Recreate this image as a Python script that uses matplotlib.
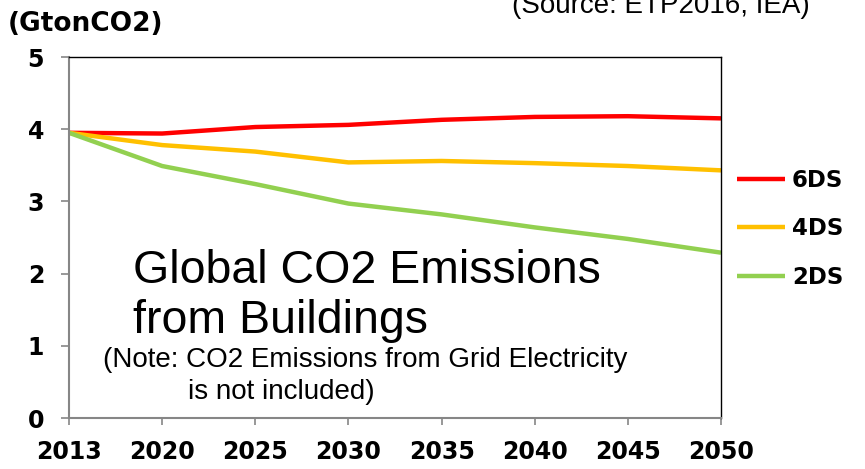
import matplotlib.pyplot as plt

# Data (GtonCO2)
years = ['2013', '2020', '2025', '2030', '2035', '2040', '2045', '2050']
ds6 = [3.95, 3.94, 4.03, 4.06, 4.13, 4.17, 4.18, 4.15]
ds4 = [3.95, 3.78, 3.69, 3.54, 3.56, 3.53, 3.49, 3.43]
ds2 = [3.95, 3.49, 3.24, 2.97, 2.82, 2.64, 2.48, 2.29]

series = [('6DS', ds6, '#FF0000'), ('4DS', ds4, '#FFC000'), ('2DS', ds2, '#92D050')]

fig = plt.figure(figsize=(8.65, 4.69), dpi=100)
ax = fig.add_axes([69 / 865, 51 / 469, 652 / 865, 361 / 469])

x = list(range(len(years)))
for name, vals, color in series:
    ax.plot(x, vals, color=color, linewidth=3.2, label=name, solid_capstyle='butt')

ax.set_xlim(0, len(years) - 1)
ax.set_ylim(0, 5)
ax.set_xticks(x)
ax.set_xticklabels(years)
ax.set_yticks(range(6))

# spines: grey left/bottom, thin black top/right
for side in ['left', 'bottom']:
    ax.spines[side].set_color('#868686')
    ax.spines[side].set_linewidth(1.5)
for side in ['top', 'right']:
    ax.spines[side].set_color('black')
    ax.spines[side].set_linewidth(1.0)

ax.tick_params(axis='y', direction='out', length=6, width=1.2, color='#868686', pad=12,
               labelsize=17)
ax.tick_params(axis='x', direction='out', length=5, width=1.2, color='#868686', pad=11,
               labelsize=17)
for lbl in ax.get_xticklabels() + ax.get_yticklabels():
    lbl.set_fontweight('bold')

# labels / annotations
fig.text(8 / 865, 1 - 24 / 469, '(GtonCO2)', fontsize=19, fontweight='bold',
         ha='left', va='center')
fig.text(810 / 865, 1 - 6 / 469, '(Source: ETP2016, IEA)', fontsize=20,
         family='Liberation Sans', ha='right', va='center')

ax.text(0.098, 0.338, 'Global CO2 Emissions\nfrom Buildings', transform=ax.transAxes,
        fontsize=33.5, family='Liberation Sans', ha='left', va='center', linespacing=1.2)
ax.text(0.052, 0.16, '(Note: CO2 Emissions from Grid Electricity', transform=ax.transAxes,
        fontsize=20, family='Liberation Sans', ha='left', va='center')
ax.text(0.182, 0.072, 'is not included)', transform=ax.transAxes,
        fontsize=20, family='Liberation Sans', ha='left', va='center')

leg = ax.legend(loc='center left', bbox_to_anchor=(1.0, 0.524), frameon=False,
                handlelength=2.1, handletextpad=0.3, labelspacing=1.1,
                borderaxespad=0.3, prop={'weight': 'bold', 'size': 16.5})

fig.savefig('out.png', dpi=100)
